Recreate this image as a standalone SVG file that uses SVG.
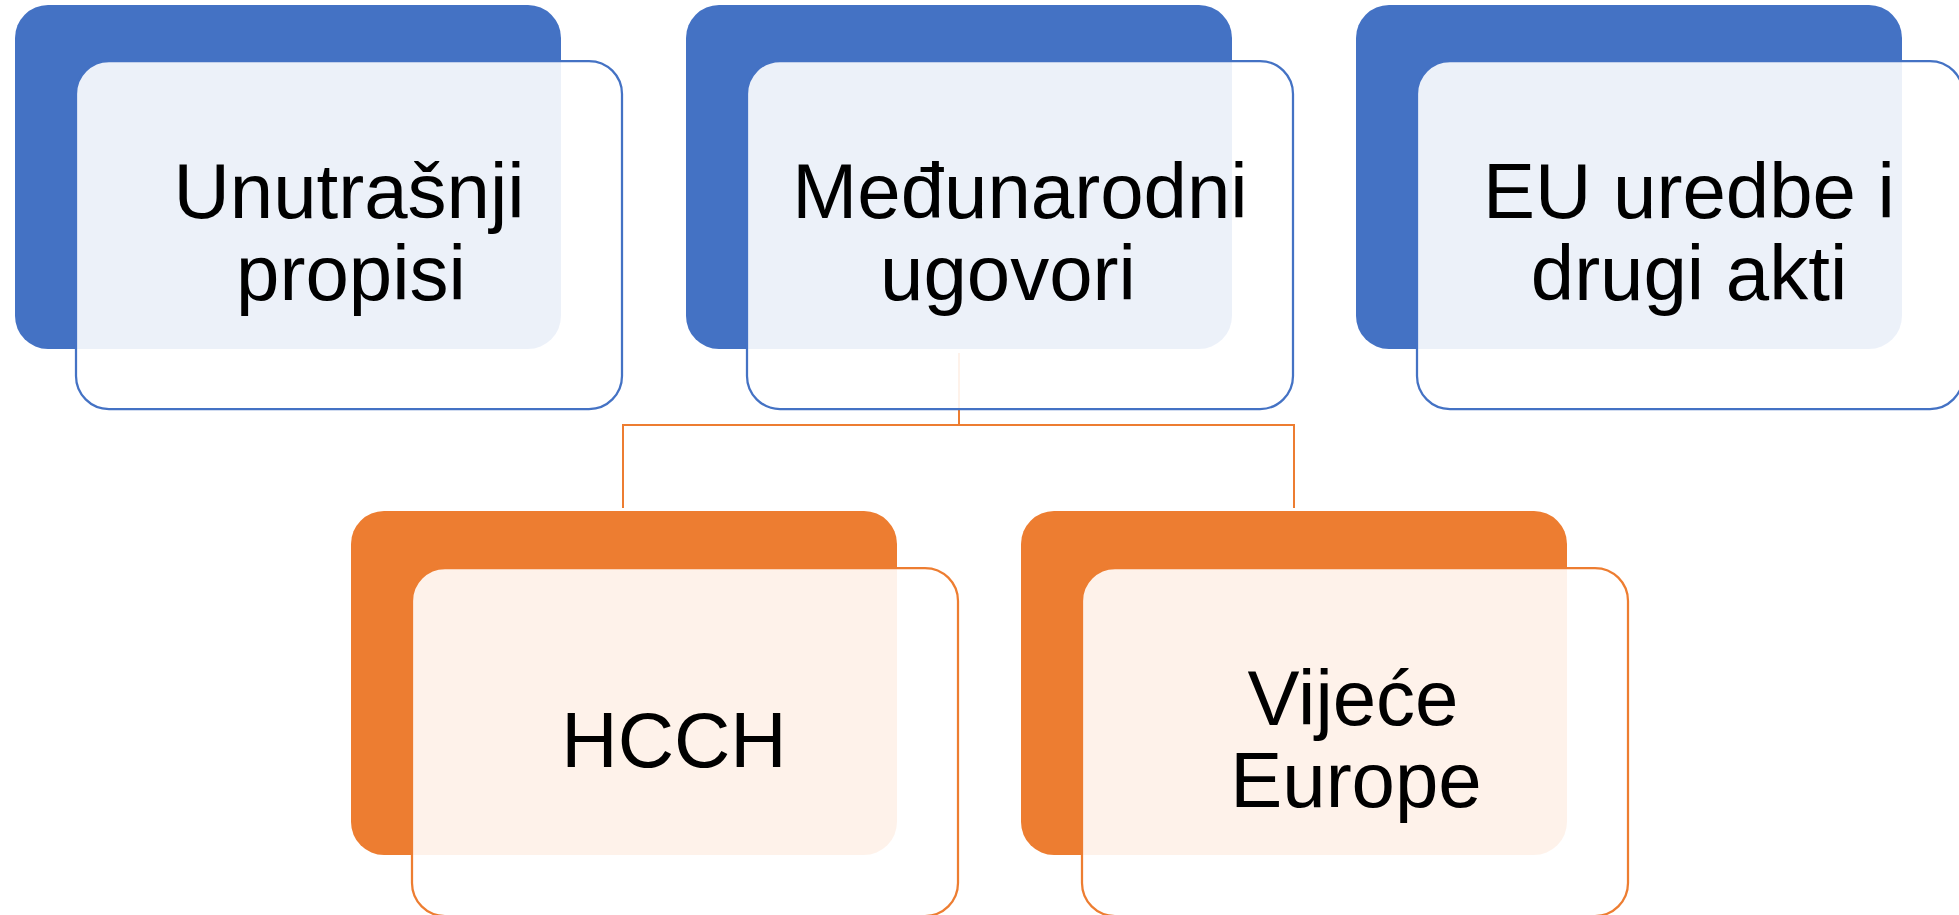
<svg xmlns="http://www.w3.org/2000/svg" width="1959" height="915" viewBox="0 0 1959 915">
<style>
.bb{fill:#4472C4}
.bo{fill:#ED7D31}
.fb{fill:#FFFFFF;fill-opacity:0.9;stroke:#4472C4;stroke-width:2.25}
.fo{fill:#FFFFFF;fill-opacity:0.9;stroke:#ED7D31;stroke-width:2.25}
.t{font-family:"Liberation Sans",Arial,sans-serif;font-size:78px;fill:#000000;text-anchor:middle}
.c{fill:none;stroke:#ED7D31;stroke-width:2}
</style>
<rect width="1959" height="915" fill="#FFFFFF"/>
<g id="connectors">
<path class="c" d="M959 353 V425 M623 508 V425 H1294 V508"/>
</g>
<g id="node-unutrasnji">
<rect class="bb" x="15" y="5" width="546" height="344" rx="33"/>
<rect class="fb" x="76" y="61" width="546" height="348" rx="33"/>
<text class="t"><tspan x="349" y="218">Unutrašnji</tspan><tspan x="351" y="300">propisi</tspan></text>
</g>
<g id="node-medunarodni">
<rect class="bb" x="686" y="5" width="546" height="344" rx="33"/>
<rect class="fb" x="747" y="61" width="546" height="348" rx="33"/>
<text class="t"><tspan x="1020" y="218">Međunarodni</tspan><tspan x="1008" y="300">ugovori</tspan></text>
</g>
<g id="node-eu">
<rect class="bb" x="1356" y="5" width="546" height="344" rx="33"/>
<rect class="fb" x="1417" y="61" width="546" height="348" rx="33"/>
<text class="t"><tspan x="1689" y="218">EU uredbe i</tspan><tspan x="1689" y="300">drugi akti</tspan></text>
</g>
<g id="node-hcch">
<rect class="bo" x="351" y="511" width="546" height="344" rx="33"/>
<rect class="fo" x="412" y="568" width="546" height="348" rx="33"/>
<text class="t" x="674" y="767">HCCH</text>
</g>
<g id="node-vijece">
<rect class="bo" x="1021" y="511" width="546" height="344" rx="33"/>
<rect class="fo" x="1082" y="568" width="546" height="348" rx="33"/>
<text class="t"><tspan x="1353" y="725">Vijeće</tspan><tspan x="1356" y="807">Europe</tspan></text>
</g>
</svg>
